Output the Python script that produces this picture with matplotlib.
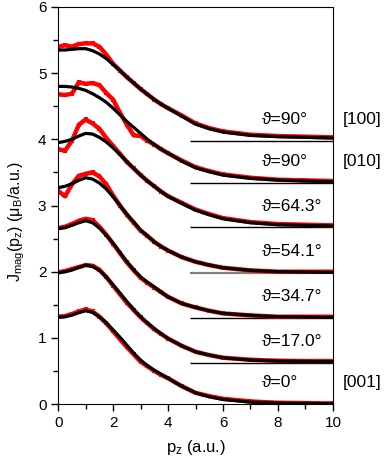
import numpy as np
import matplotlib.pyplot as plt
from matplotlib.ticker import MultipleLocator

plt.rcParams['font.family'] = ['Liberation Sans', 'DejaVu Sans']
plt.rcParams['mathtext.default'] = 'regular'

# momentum grid (a.u.)
pz = [0, 0.25, 0.5, 0.75, 1, 1.25, 1.5, 1.75, 2, 2.25, 2.5, 2.75, 3, 3.25, 3.5, 3.75, 4,
      4.5, 5, 5.5, 6, 7, 8, 9, 10]

# fitted curves (black), top to bottom
fit_100 = [5.35, 5.35, 5.36, 5.37, 5.37, 5.34, 5.29, 5.22, 5.13, 5.04, 4.94, 4.85, 4.76, 4.68, 4.60, 4.53, 4.47,
           4.35, 4.23, 4.16, 4.11, 4.06, 4.04, 4.03, 4.02]
fit_010 = [4.80, 4.80, 4.79, 4.77, 4.74, 4.69, 4.63, 4.56, 4.47, 4.37, 4.27, 4.18, 4.09, 4.00, 3.92, 3.85, 3.79,
           3.67, 3.57, 3.51, 3.46, 3.41, 3.385, 3.37, 3.36]
fit_643 = [3.95, 3.97, 4.00, 4.05, 4.09, 4.08, 4.03, 3.96, 3.87, 3.77, 3.66, 3.56, 3.46, 3.37, 3.29, 3.21, 3.14,
           3.03, 2.93, 2.86, 2.80, 2.74, 2.71, 2.70, 2.69]
fit_541 = [3.27, 3.29, 3.33, 3.38, 3.42, 3.40, 3.34, 3.25, 3.13, 3.00, 2.87, 2.75, 2.63, 2.54, 2.45, 2.38, 2.32,
           2.22, 2.15, 2.10, 2.06, 2.02, 2.00, 1.995, 1.99]
fit_347 = [2.65, 2.665, 2.70, 2.74, 2.77, 2.74, 2.66, 2.55, 2.43, 2.29, 2.15, 2.03, 1.92, 1.84, 1.77, 1.69, 1.62,
           1.52, 1.46, 1.41, 1.37, 1.34, 1.32, 1.315, 1.31]
fit_170 = [1.985, 2.00, 2.025, 2.065, 2.10, 2.08, 2.02, 1.92, 1.80, 1.675, 1.55, 1.43, 1.32, 1.225, 1.14, 1.06, 0.99,
           0.88, 0.79, 0.74, 0.70, 0.665, 0.65, 0.645, 0.64]
fit_000 = [1.31, 1.32, 1.345, 1.38, 1.41, 1.385, 1.32, 1.23, 1.12, 1.01, 0.89, 0.77, 0.665, 0.58, 0.51, 0.45, 0.39,
           0.27, 0.17, 0.11, 0.07, 0.03, 0.015, 0.01, 0.005]

# measured data (red)
dat_100 = [5.40, 5.42, 5.40, 5.44, 5.45, 5.45, 5.40, 5.28, 5.14, 5.04, 4.94, 4.85, 4.76, 4.68, 4.60, 4.53, 4.47,
           4.36, 4.24, 4.17, 4.12, 4.07, 4.05, 4.04, 4.03]
dat_010 = [4.68, 4.67, 4.69, 4.86, 4.84, 4.85, 4.82, 4.70, 4.60, 4.40, 4.22, 4.06, 4.05, 3.98, 3.92, 3.85, 3.79,
           3.68, 3.58, 3.52, 3.47, 3.42, 3.39, 3.38, 3.37]
dat_643 = [3.85, 3.83, 3.98, 4.22, 4.30, 4.24, 4.16, 4.02, 3.90, 3.78, 3.66, 3.56, 3.46, 3.37, 3.29, 3.21, 3.14,
           3.04, 2.94, 2.87, 2.81, 2.75, 2.72, 2.71, 2.70]
dat_541 = [3.22, 3.14, 3.32, 3.45, 3.48, 3.50, 3.44, 3.32, 3.15, 3.00, 2.86, 2.74, 2.62, 2.54, 2.45, 2.38, 2.32,
           2.22, 2.15, 2.10, 2.06, 2.02, 2.00, 2.00, 2.00]
dat_347 = [2.66, 2.68, 2.72, 2.77, 2.80, 2.78, 2.68, 2.56, 2.42, 2.28, 2.14, 2.02, 1.91, 1.83, 1.76, 1.69, 1.62,
           1.52, 1.46, 1.41, 1.37, 1.34, 1.32, 1.32, 1.32]
dat_170 = [1.99, 2.01, 2.04, 2.07, 2.10, 2.09, 2.03, 1.92, 1.79, 1.66, 1.53, 1.42, 1.31, 1.22, 1.13, 1.06, 0.99,
           0.88, 0.79, 0.74, 0.70, 0.67, 0.655, 0.65, 0.65]
dat_000 = [1.32, 1.33, 1.36, 1.40, 1.43, 1.40, 1.32, 1.22, 1.10, 0.98, 0.86, 0.75, 0.64, 0.57, 0.50, 0.44, 0.39,
           0.27, 0.17, 0.12, 0.08, 0.04, 0.02, 0.015, 0.01]

fits = [fit_100, fit_010, fit_643, fit_541, fit_347, fit_170, fit_000]
dats = [dat_100, dat_010, dat_643, dat_541, dat_347, dat_170, dat_000]

# labels and zero lines
angle_labels = ['ϑ=90°', 'ϑ=90°', 'ϑ=64.3°', 'ϑ=54.1°', 'ϑ=34.7°', 'ϑ=17.0°', 'ϑ=0°']
baselines = [3.98, 3.34, 2.67, 1.98, 1.30, 0.62, 0.0]
base_colors = ['black', 'black', 'black', 'gray', 'black', 'black', 'black']
direction_labels = {0: '[100]', 1: '[010]', 6: '[001]'}

fig = plt.figure(figsize=(3.88, 4.65), dpi=100)
ax = fig.add_axes([0.150, 0.131, 0.708, 0.854])

for i in range(len(fits)):
    ax.plot(pz, dats[i], color='red', lw=3.2, marker='s', ms=3.5, mew=0,
            solid_joinstyle='round', zorder=2)
    ax.plot(pz, fits[i], color='black', lw=2.3, zorder=3)
    if baselines[i] > 0:
        ax.hlines(baselines[i], 4.8, 10, color=base_colors[i],
                  lw=1.6 if base_colors[i] == 'gray' else 1.0, zorder=1)
    ax.text(7.4, baselines[i] + 0.32, angle_labels[i], fontsize=12.5,
            ha='left', va='center')
    if i in direction_labels:
        ax.text(1.036, baselines[i] + 0.32, direction_labels[i], fontsize=12.5,
                ha='left', va='center', transform=ax.get_yaxis_transform())

ax.set_xlim(0, 10)
ax.set_ylim(0, 6)
ax.xaxis.set_major_locator(MultipleLocator(2))
ax.xaxis.set_minor_locator(MultipleLocator(1))
ax.yaxis.set_major_locator(MultipleLocator(1))
ax.yaxis.set_minor_locator(MultipleLocator(0.5))
ax.tick_params(which='major', length=5, width=1, labelsize=11)
ax.tick_params(which='minor', length=3.5, width=1)
ax.set_xlabel('$p_z$ (a.u.)', fontsize=12, labelpad=6)
ax.set_ylabel('$J_{mag}(p_z)$ ($\\mu_B$/a.u.)', fontsize=11.5)
ax.yaxis.set_label_coords(-0.115, 0.46)

fig.savefig('out.png', dpi=100)
